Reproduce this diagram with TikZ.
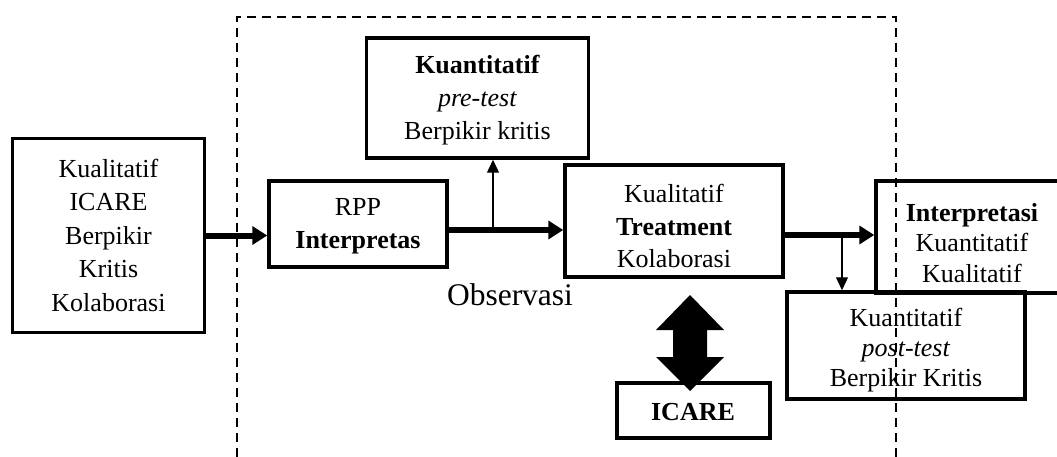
\documentclass[tikz,border=0pt]{standalone}
\usepackage{fontspec}
\setmainfont{Liberation Serif}
\usetikzlibrary{arrows.meta}
\begin{document}
\begin{tikzpicture}[x=1pt,y=-1pt,
  box/.style={draw, line width=3.5pt, inner sep=0pt},
  txt/.style={align=center, inner sep=0pt, font=\fontsize{26}{#1}\selectfont},
  txt/.default=33,
  thickarrow/.style={line width=6pt, -{Triangle[length=15pt,width=18pt]}},
  thinarrow/.style={line width=1.3pt, -{Triangle[length=13pt,width=12pt]}},
  frameline/.style={line width=2.6pt, dash pattern=on 9pt off 6pt}]
\useasboundingbox (0,0) rectangle (1057,457);
\fill[white] (0,0) rectangle (1057,457);
\clip (0,0) rectangle (1057,457);

% dashed frame (open at the bottom)
\draw[frameline] (237,457) -- (237,17) -- (896,17) -- (896,457);

% boxes
\node[box, minimum width=192pt, minimum height=194pt] (left) at (108.5,235.5) {};
\node[box, minimum width=222pt, minimum height=120pt] (kuan) at (477.5,98) {};
\node[box, minimum width=178pt, minimum height=86pt] (rpp) at (358,224) {};
\node[box, minimum width=218pt, minimum height=112pt] (treat) at (674,221) {};
\node[box, minimum width=194pt, minimum height=112pt] (interp) at (973,237) {};
\node[box, minimum width=238pt, minimum height=107pt] (post) at (906,345.5) {};
\node[box, minimum width=153pt, minimum height=55pt] (icare) at (693.5,410.5) {};

% texts
\node[txt=33.5] (lefttxt) at (108.5,235) {Kualitatif\\ICARE\\Berpikir\\Kritis\\Kolaborasi};
\node[txt=33] (kuantxt) at (477.5,100) {\textbf{Kuantitatif}\\\textit{pre-test}\\Berpikir kritis};
\node[txt=33] (rpptxt) at (358,226.5) {RPP\\\textbf{Interpretas}};
\node[txt=32.5] (treattxt) at (674,226) {Kualitatif\\\textbf{Treatment}\\Kolaborasi};
\node[txt=30.5] (interptxt) at (972,243) {\textbf{Interpretasi}\\Kuantitatif\\Kualitatif};
\node[txt=30] (posttxt) at (906,350) {Kuantitatif\\\textit{post-test}\\Berpikir Kritis};
\node[txt] (icaretxt) at (693,412) {\textbf{ICARE}};
\node[anchor=base, inner sep=0pt, font=\fontsize{31.5}{36}\selectfont] (obs) at (510,305) {Observasi};

% connectors
\draw[thickarrow] (left.east) -- (left.east -| rpp.west);
\coordinate (r1) at ([yshift=-6pt]rpp.east);
\draw[thickarrow] (r1) -- (r1 -| treat.west);
\coordinate (b1) at (493,230);
\draw[thinarrow] (b1) -- (b1 |- kuan.south);
\coordinate (t1) at ([yshift=-14pt]treat.east);
\draw[thickarrow] (t1) -- (t1 -| interp.west);
\coordinate (b2) at (842,235);
\draw[thinarrow] (b2) -- (b2 |- post.north);

% double arrow between Treatment and ICARE
\fill (690,295) -- (724,330) -- (707,330) -- (707,357) -- (724,357) -- (690,391)
  -- (656,357) -- (673,357) -- (673,330) -- (656,330) -- cycle;
\end{tikzpicture}
\end{document}
